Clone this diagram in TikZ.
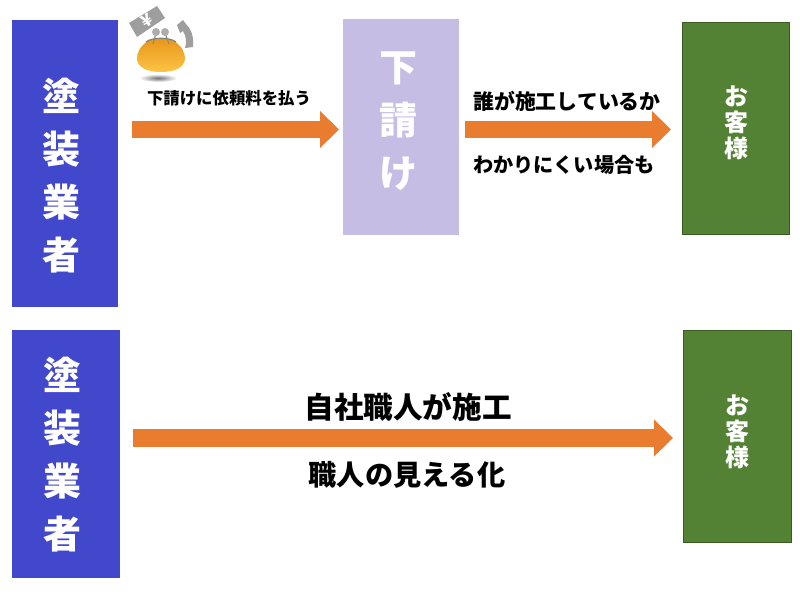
\documentclass[tikz,border=0pt]{standalone}
\usepackage{fontspec}
\setmainfont{Noto Sans CJK JP}
\usepackage{tikz}
\usetikzlibrary{arrows.meta}
\usetikzlibrary{positioning}
\definecolor{paintblue}{RGB}{66,72,204}
\definecolor{sublilac}{RGB}{197,189,228}
\definecolor{clientgreen}{RGB}{84,130,53}
\definecolor{barorange}{RGB}{234,124,48}
\definecolor{pursetop}{RGB}{232,150,25}
\definecolor{pursebottom}{RGB}{252,196,70}
\tikzset{
    stagebox/.style={
           rectangle,
           anchor=north west,
           inner sep=0pt,
           },
    stagetext/.style={
           text=white,
           align=center,
           inner sep=0pt,
           font=\bfseries\fontsize{38}{53}\selectfont,
           },
    clienttext/.style={
           text=white,
           align=center,
           inner sep=0pt,
           font=\bfseries\fontsize{24}{26}\selectfont,
           },
    note/.style={
           text=black,
           inner sep=0pt,
           font=\bfseries\fontsize{#1}{#1}\selectfont,
           },
    bararrow/.style={
           draw=barorange,
           line width=17.5pt,
           -{Triangle[length=19pt,width=36pt,color=barorange]},
           },
}

\begin{document}
\begin{tikzpicture}[x=1pt,y=-1pt]
      \useasboundingbox (0,0) rectangle (800,600);
      % upper row
      \node[stagebox, fill=paintblue, minimum width=106pt, minimum height=287pt] (painter_0) at (12,20) {};
      \node[stagebox, fill=sublilac, minimum width=116pt, minimum height=216pt] (sub_0) at (343,19) {};
      \node[stagebox, fill=clientgreen, draw=clientgreen!70!black, minimum width=107pt, minimum height=212pt] (client_0) at (682,22) {};
      \node[stagetext] (painter_0_text) at (61,176) {塗\\装\\業\\者};
      \node[stagetext] (sub_0_text) at (398,121) {下\\請\\け};
      \node[clienttext] (client_0_text) at (736,123) {お\\客\\様};
      \node[note=16.4] (fee) at (229,98) {下請けに依頼料を払う};
      \node[note=20.9] (who) at (567,101.5) {誰が施工しているか};
      \node[note=20.2] (hard) at (564,165) {わかりにくい場合も};
      % lower row
      \node[stagebox, fill=paintblue, minimum width=108pt, minimum height=248pt] (painter_1) at (12,330) {};
      \node[stagebox, fill=clientgreen, draw=clientgreen!70!black, minimum width=108pt, minimum height=212pt] (client_1) at (683,330) {};
      \node[stagetext] (painter_1_text) at (62,455) {塗\\装\\業\\者};
      \node[clienttext] (client_1_text) at (737,432) {お\\客\\様};
      \node[note=29.6] (own) at (408,407) {自社職人が施工};
      \node[note=28.2] (seen) at (407,475) {職人の見える化};
      % block arrows
      \coordinate (bar_0) at (painter_0.east |- 0,129.5);
      \coordinate (bar_1) at (sub_0.west |- 0,129.5);
      \coordinate (bar_2) at (sub_0.east |- 0,129.5);
      \coordinate (bar_3) at (client_0.west |- 0,129.5);
      \coordinate (bar_4) at (painter_1.east |- 0,438);
      \coordinate (bar_5) at (client_1.west |- 0,438);
      \draw[bararrow, shorten <=14pt, shorten >=4pt] (bar_0) -- (bar_1);
      \draw[bararrow, shorten <=6pt, shorten >=11pt] (bar_2) -- (bar_3);
      \draw[bararrow, shorten <=13pt, shorten >=10pt] (bar_4) -- (bar_5);
      % purse icon
      \shade[inner color=black!55, outer color=white] (158,78) ellipse (19 and 4);
      \fill[black!38] (129,23) -- (157,6) -- (165,18) -- (137,37) -- cycle;
      \node[rotate=30, text=white, inner sep=0pt, font=\bfseries\fontsize{17}{17}\selectfont] (yen) at (147,21) {¥};
      \fill[black!38] (177,25) -- (183,20) -- (186,24) .. controls (191,29) and (194,36) .. (193,47) -- (185,48) .. controls (187,42) and (186,36) .. (183,31) -- (180,33) -- cycle;
      \shade[top color=pursetop, bottom color=pursebottom] (137,58) .. controls (138,46) and (148,38) .. (161,38) .. controls (174,38) and (184,46) .. (185,58) .. controls (185,68) and (174,72) .. (161,72) .. controls (148,72) and (137,68) .. (137,58) -- cycle;
      \draw[black!50, line width=1.2pt] (146,42) .. controls (152,37) and (170,37) .. (176,42);
      \draw[black!45, line width=1.2pt] (156,33) -- (153,44) (165,33) -- (169,44);
      \fill[black!32] (156,32) circle (4);
      \fill[black!32] (165,32) circle (4);
\end{tikzpicture}
\end{document}
